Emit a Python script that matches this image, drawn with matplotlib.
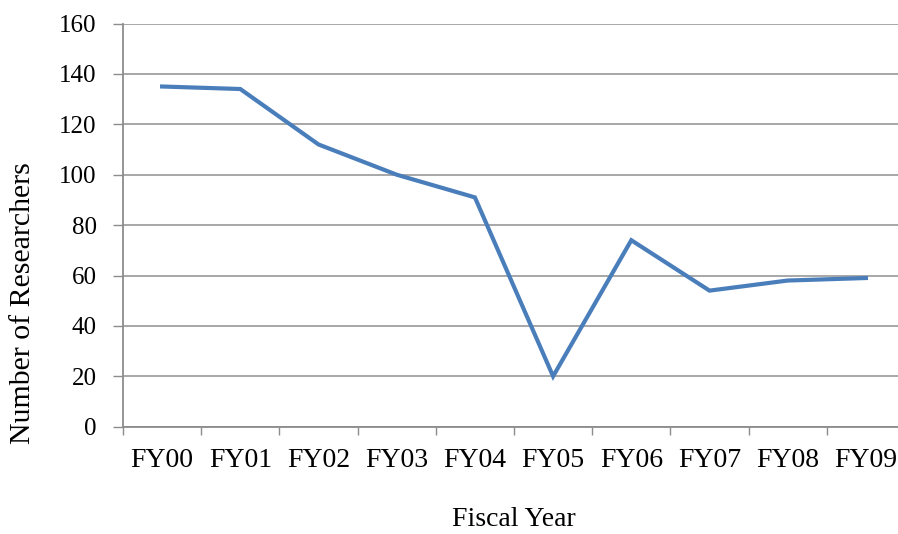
import matplotlib
matplotlib.use("Agg")
import matplotlib.pyplot as plt

# Researchers per fiscal year
years = ["FY00", "FY01", "FY02", "FY03", "FY04",
         "FY05", "FY06", "FY07", "FY08", "FY09"]
researchers = [135, 134, 112, 100, 91, 20, 74, 54, 58, 59]
yticks = [0, 20, 40, 60, 80, 100, 120, 140, 160]

plt.rcParams["font.family"] = ["Liberation Serif", "DejaVu Serif"]

fig = plt.figure(figsize=(8.98, 5.34), dpi=100)
ax = fig.add_axes([123 / 898, 1 - 426.7 / 534, 782 / 898, 403.2 / 534])

x = list(range(len(years)))
ax.plot(x, researchers, color="#4A7EBB", linewidth=3.0,
        solid_joinstyle="miter", zorder=3)

ax.set_xlim(-0.5, len(years) - 0.5)
ax.set_ylim(0, 160)
ax.set_yticks(yticks)
ax.set_yticklabels([str(v) for v in yticks])

# category ticks sit between the categories
ax.set_xticks([i - 0.5 for i in range(len(years) + 1)])
ax.set_xticklabels([])
ax.set_xticks(x, minor=True)
ax.set_xticklabels(years, minor=True)
ax.tick_params(axis="x", which="minor", length=0, pad=15, labelsize=20)
ax.tick_params(axis="x", which="major", length=6, width=1.0,
               color="#8C8C8C", direction="out")
ax.tick_params(axis="y", length=7, width=1.0, color="#8C8C8C",
               pad=12, labelsize=18)

ax.yaxis.grid(True, color="#A0A0A0", linewidth=1.3)
ax.set_axisbelow(True)
for side in ["top", "right"]:
    ax.spines[side].set_visible(False)
for side in ["left", "bottom"]:
    ax.spines[side].set_color("#8C8C8C")
    ax.spines[side].set_linewidth(1.3)

fig.text(514 / 898, 1 - 532 / 534, "Fiscal Year", ha="center",
         va="bottom", fontsize=20)
fig.text(23 / 898, 1 - 303 / 534, "Number of Researchers", ha="center",
         va="center", rotation=90, fontsize=21.5)

fig.savefig("out.png", dpi=100)
